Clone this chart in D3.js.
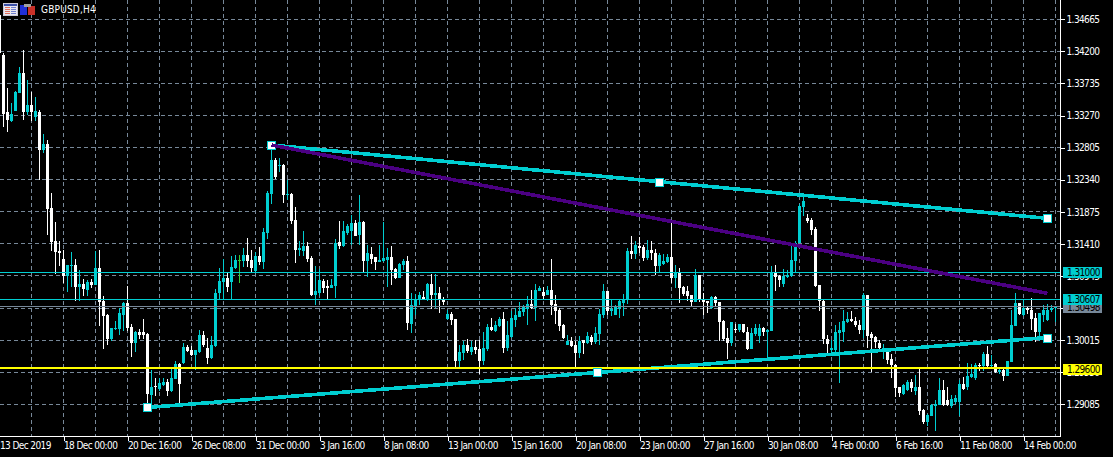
<!DOCTYPE html>
<html><head><meta charset="utf-8">
<style>
html,body{margin:0;padding:0;background:#000;overflow:hidden}
svg{display:block}
text{font-family:'DejaVu Sans',sans-serif;font-stretch:condensed;font-size:10px;letter-spacing:-0.6px;fill:#fff}
text.title{letter-spacing:0.2px}
</style>
<script src="https://cdn.jsdelivr.net/npm/d3@7"></script>
</head><body><svg id="c" width="1113" height="457"></svg>
<script>
const title = "GBPUSD,H4";
const opens = [1.34728,1.34148,1.33322,1.33191,1.33336,1.33597,1.33887,1.33322,1.33423,1.33249,
1.33322,1.32771,1.32858,1.31930,1.31451,1.31306,1.31191,1.30944,1.31089,1.31104,
1.30784,1.30828,1.30741,1.30857,1.30813,1.31060,1.30581,1.30378,1.30030,1.30175,
1.30175,1.30378,1.30552,1.30204,1.29972,1.30132,1.30132,1.30103,1.29219,1.29349,
1.29305,1.29363,1.29407,1.29276,1.29450,1.29668,1.29682,1.29914,1.29871,1.29798,
1.29842,1.30088,1.29900,1.29755,1.29929,1.30697,1.30857,1.30915,1.30857,1.31060,
1.31176,1.31161,1.31248,1.31176,1.31016,1.31234,1.31147,1.31567,1.32133,1.32626,
1.32539,1.32553,1.32118,1.32133,1.31756,1.31321,1.31306,1.31379,1.31205,1.30668,
1.30697,1.30871,1.30799,1.30770,1.30799,1.31437,1.31379,1.31567,1.31596,1.31712,
1.31538,1.31727,1.31161,1.31263,1.31220,1.31147,1.31161,1.31176,1.31220,1.31045,
1.30915,1.31104,1.31161,1.30248,1.30509,1.30596,1.30639,1.30596,1.30828,1.30668,
1.30697,1.30596,1.30320,1.30393,1.30320,1.29711,1.29827,1.29943,1.29842,1.29914,
1.29885,1.29711,1.29885,1.30204,1.30146,1.30219,1.30320,1.29900,1.30059,1.30306,
1.30349,1.30422,1.30465,1.30538,1.30480,1.30726,1.30712,1.30668,1.30741,1.30538,
1.30451,1.30233,1.29943,1.30001,1.29943,1.29827,1.30016,1.29972,1.30059,1.29987,
1.30103,1.30378,1.30726,1.30436,1.30378,1.30465,1.30552,1.30596,1.31306,1.31263,
1.31379,1.31364,1.31205,1.31321,1.31277,1.31089,1.31118,1.31147,1.31220,1.30915,
1.30987,1.30784,1.30726,1.30668,1.30567,1.30958,1.30596,1.30581,1.30480,1.30639,
1.30567,1.30291,1.30045,1.29972,1.30175,1.30161,1.30248,1.30132,1.29885,1.30103,
1.30074,1.30190,1.30132,1.30146,1.30987,1.30944,1.30828,1.30929,1.30944,1.31161,
1.31422,1.31944,1.31785,1.31756,1.31625,1.30813,1.30581,1.30030,1.29871,1.29871,
1.30117,1.30132,1.30277,1.30320,1.30291,1.30233,1.30161,1.30668,1.30103,1.30059,
1.29972,1.29842,1.29856,1.29740,1.29653,1.29334,1.29233,1.29291,1.29407,1.29276,
1.29334,1.29001,1.28827,1.28914,1.29059,1.29073,1.29291,1.29146,1.29059,1.29117,
1.29117,1.29378,1.29334,1.29479,1.29465,1.29653,1.29639,1.29813,1.29639,1.29668,
1.29552,1.29581,1.29494,1.29697,1.30219,1.30552,1.30378,1.30480,1.30451,1.30335,
1.30132,1.30378,1.30306,1.30451,1.30480];
const highs = [1.34728,1.34177,1.33670,1.33452,1.33626,1.33974,1.34221,1.33786,1.33612,1.33539,
1.33351,1.33003,1.32916,1.32147,1.31727,1.31451,1.31321,1.31104,1.31292,1.31191,
1.31031,1.30900,1.30886,1.30900,1.31306,1.31321,1.30654,1.30393,1.30190,1.30291,
1.30480,1.30567,1.30799,1.30248,1.30146,1.30175,1.30320,1.30117,1.29581,1.29465,
1.29465,1.29465,1.29450,1.29610,1.29711,1.29682,1.29972,1.29943,1.29929,1.29871,
1.30161,1.30146,1.30045,1.30074,1.30755,1.31060,1.31191,1.31002,1.31234,1.31248,
1.31248,1.31350,1.31495,1.31321,1.31292,1.31364,1.31640,1.32176,1.32843,1.32655,
1.32655,1.32568,1.32336,1.32147,1.31944,1.31451,1.31596,1.31437,1.31234,1.31089,
1.31045,1.30900,1.30886,1.30900,1.31480,1.31741,1.31741,1.31698,1.31828,1.31756,
1.32118,1.31741,1.31393,1.31364,1.31220,1.31393,1.31727,1.31350,1.31379,1.31060,
1.31133,1.31191,1.31234,1.30697,1.30683,1.30712,1.30726,1.30842,1.30973,1.30973,
1.30784,1.30639,1.30451,1.30422,1.30320,1.29943,1.30001,1.30030,1.30001,1.30016,
1.30016,1.30132,1.30248,1.30335,1.30291,1.30349,1.30422,1.30291,1.30436,1.30480,
1.30567,1.30524,1.30654,1.30741,1.30828,1.30799,1.30784,1.30799,1.31191,1.30668,
1.30480,1.30248,1.30088,1.30059,1.30001,1.30074,1.30016,1.30132,1.30088,1.30204,
1.30465,1.30828,1.30726,1.30596,1.30524,1.30610,1.30683,1.31350,1.31524,1.31451,
1.31509,1.31393,1.31466,1.31451,1.31335,1.31277,1.31263,1.31263,1.31727,1.31104,
1.31060,1.30799,1.30799,1.30668,1.31045,1.30958,1.30697,1.30581,1.30654,1.30654,
1.30567,1.30306,1.30190,1.30277,1.30248,1.30248,1.30248,1.30204,1.30190,1.30248,
1.30248,1.30204,1.30175,1.31089,1.31104,1.30958,1.31045,1.31031,1.31379,1.31451,
1.31988,1.32104,1.31843,1.31785,1.31654,1.30813,1.30596,1.30088,1.30016,1.30233,
1.30277,1.30451,1.30422,1.30436,1.30349,1.30306,1.30697,1.30668,1.30132,1.30074,
1.30016,1.29958,1.29900,1.29813,1.29668,1.29334,1.29378,1.29436,1.29450,1.29508,
1.29595,1.29015,1.28943,1.29088,1.29146,1.29465,1.29436,1.29334,1.29219,1.29219,
1.29436,1.29479,1.29682,1.29668,1.29682,1.29682,1.29842,1.29929,1.29798,1.29682,
1.29610,1.29610,1.29711,1.30451,1.30697,1.30552,1.30596,1.30494,1.30625,1.30407,
1.30407,1.30524,1.30538,1.30524,1.30509];
const lows = [1.34178,1.33104,1.33032,1.33177,1.33336,1.33597,1.33206,1.33278,1.33191,1.33191,
1.32336,1.32727,1.31538,1.31306,1.30973,1.31089,1.30842,1.30712,1.30784,1.30581,
1.30581,1.30654,1.30654,1.30770,1.30813,1.30219,1.29885,1.29943,1.30001,1.30161,
1.30088,1.30146,1.30146,1.29769,1.29842,1.30030,1.30030,1.29102,1.29044,1.29204,
1.29276,1.29349,1.29204,1.29262,1.29450,1.29102,1.29668,1.29842,1.29784,1.29581,
1.29827,1.29914,1.29668,1.29740,1.29914,1.30610,1.30610,1.30712,1.30610,1.31045,
1.30842,1.31074,1.31074,1.31002,1.31002,1.31104,1.31045,1.31480,1.31988,1.32350,
1.32452,1.32002,1.32046,1.31698,1.31133,1.31234,1.31234,1.31147,1.30654,1.30524,
1.30654,1.30697,1.30610,1.30770,1.30625,1.31335,1.31364,1.31538,1.31393,1.31524,
1.31393,1.31002,1.30929,1.31118,1.31031,1.31147,1.31147,1.30784,1.30813,1.30900,
1.30915,1.31031,1.30161,1.30117,1.30378,1.30524,1.30596,1.30581,1.30465,1.30480,
1.30407,1.30524,1.30306,1.30233,1.29624,1.29624,1.29726,1.29827,1.29798,1.29813,
1.29523,1.29653,1.29856,1.30146,1.30132,1.30204,1.29827,1.29856,1.30045,1.30204,
1.30349,1.30364,1.30233,1.30465,1.30291,1.30726,1.30610,1.30668,1.30378,1.30248,
1.30146,1.30030,1.29943,1.29914,1.29624,1.29755,1.29813,1.29958,1.29943,1.29958,
1.29943,1.30335,1.30378,1.30364,1.30378,1.30335,1.30364,1.30538,1.31191,1.31191,
1.31277,1.31161,1.31176,1.31176,1.30958,1.31002,1.31104,1.31133,1.30842,1.30770,
1.30552,1.30654,1.30581,1.30494,1.30567,1.30567,1.30378,1.30407,1.30465,1.30494,
1.30001,1.30001,1.29740,1.29929,1.30117,1.30132,1.30117,1.29871,1.29885,1.30074,
1.29972,1.30074,1.29726,1.30146,1.30726,1.30784,1.30784,1.30915,1.30929,1.31002,
1.31422,1.31814,1.31712,1.31538,1.30784,1.30436,1.29958,1.29827,1.29827,1.29842,
1.29392,1.29987,1.30262,1.30277,1.30204,1.30103,1.30045,1.29900,1.29552,1.29900,
1.29842,1.29740,1.29668,1.29465,1.29190,1.29190,1.29219,1.29276,1.29262,1.29219,
1.28928,1.28798,1.28769,1.28914,1.28697,1.29073,1.29059,1.29059,1.29030,1.29088,
1.28914,1.29291,1.29291,1.29465,1.29436,1.29566,1.29566,1.29624,1.29610,1.29537,
1.29523,1.29421,1.29494,1.29697,1.30219,1.30378,1.30364,1.30393,1.30161,1.29987,
1.30001,1.30277,1.30291,1.30422,1.30277];
const closes = [1.34178,1.33293,1.33206,1.33293,1.33612,1.33887,1.33322,1.33423,1.33322,1.33336,
1.32771,1.32858,1.31916,1.31437,1.31292,1.31277,1.30944,1.31104,1.31104,1.30784,
1.30828,1.30755,1.30857,1.30813,1.31060,1.30567,1.30364,1.30030,1.30190,1.30190,
1.30407,1.30552,1.30190,1.29972,1.30132,1.30088,1.30088,1.29233,1.29334,1.29334,
1.29392,1.29407,1.29276,1.29465,1.29668,1.29378,1.29914,1.29856,1.29798,1.29871,
1.30088,1.29943,1.29755,1.29943,1.30697,1.30871,1.30915,1.30784,1.31074,1.31176,
1.31176,1.31248,1.31161,1.31060,1.31234,1.31147,1.31582,1.32147,1.32626,1.32379,
1.32553,1.32118,1.32133,1.31741,1.31321,1.31350,1.31379,1.31191,1.30668,1.30726,
1.30886,1.30770,1.30770,1.30813,1.31422,1.31379,1.31596,1.31669,1.31712,1.31524,
1.31727,1.31161,1.31277,1.31191,1.31147,1.31176,1.31205,1.31220,1.31031,1.30915,
1.31118,1.31161,1.30262,1.30524,1.30610,1.30668,1.30610,1.30828,1.30668,1.30697,
1.30610,1.30567,1.30393,1.30306,1.29711,1.29842,1.29943,1.29856,1.29914,1.29871,
1.29711,1.29900,1.30204,1.30161,1.30233,1.30320,1.29900,1.30088,1.30335,1.30378,
1.30436,1.30494,1.30538,1.30480,1.30741,1.30770,1.30654,1.30741,1.30524,1.30436,
1.30219,1.30045,1.30001,1.29929,1.29827,1.30001,1.29972,1.30074,1.29987,1.30117,
1.30393,1.30726,1.30436,1.30465,1.30494,1.30581,1.30610,1.31306,1.31263,1.31393,
1.31350,1.31205,1.31321,1.31277,1.31089,1.31248,1.31161,1.31220,1.30915,1.31002,
1.30770,1.30683,1.30654,1.30567,1.30958,1.30610,1.30567,1.30552,1.30639,1.30552,
1.30277,1.30030,1.29972,1.30277,1.30161,1.30248,1.30132,1.29885,1.30117,1.30190,
1.30190,1.30132,1.30161,1.30987,1.30929,1.30886,1.30944,1.30958,1.31176,1.31422,
1.31959,1.32031,1.31741,1.31611,1.30799,1.30581,1.30030,1.29958,1.29900,1.30132,
1.30161,1.30291,1.30320,1.30291,1.30233,1.30161,1.30668,1.30074,1.30045,1.29987,
1.29900,1.29900,1.29726,1.29653,1.29320,1.29248,1.29363,1.29407,1.29320,1.29334,
1.28986,1.28827,1.28928,1.29073,1.29088,1.29291,1.29073,1.29073,1.29161,1.29175,
1.29378,1.29305,1.29494,1.29523,1.29653,1.29639,1.29813,1.29639,1.29653,1.29552,
1.29581,1.29494,1.29711,1.30233,1.30552,1.30393,1.30480,1.30451,1.30320,1.30132,
1.30407,1.30451,1.30451,1.30480,1.30494];
const priceTicks = [1.34665,1.34200,1.33735,1.33270,1.32805,1.32340,1.31875,1.31410,1.30945,1.30480,1.30015,1.29550,1.29085];
const timeLabels = ["13 Dec 2019","18 Dec 00:00","20 Dec 16:00","26 Dec 08:00","31 Dec 00:00","3 Jan 16:00","8 Jan 08:00","13 Jan 00:00","15 Jan 16:00","20 Jan 08:00","23 Jan 00:00","27 Jan 16:00","30 Jan 08:00","4 Feb 00:00","6 Feb 16:00","11 Feb 08:00","14 Feb 00:00"];
const labelEvery = 16;
const gridEvery = 8;
const levelA = 1.31000, levelB = 1.30607, levelBid = 1.30498, levelY = 1.29600;
const upperBars = [68,165,262], upperPrices = [1.32843,1.32311,1.31780];
const lowerBars = [37,149.5,262], lowerPrices = [1.29039,1.29546,1.30053];
const midBars = [68,262], midPrices = [1.32843,1.30693];

const CYAN="#00ced1", GRID="#778899", YEL="#ffff00", PUR="#4b0082", GREEN="#32cd32";
const R=1060.5, B=436.5;
const svg=d3.select("#c");
const x=d3.scaleLinear().domain([0,264]).range([-0.5,1055.5]);
const y=d3.scaleLinear().domain([1.34665,1.29085]).range([19.3,404.3]);
const n=opens.length, idx=d3.range(n);
const crisp=svg.append("g").attr("shape-rendering","crispEdges");

// grid
const gridX=d3.range(gridEvery,n,gridEvery);
crisp.append("g").selectAll("line").data(priceTicks).join("line")
 .attr("x1",0).attr("x2",R).attr("y1",d=>Math.floor(y(d))+.5).attr("y2",d=>Math.floor(y(d))+.5)
 .attr("stroke",GRID).attr("stroke-dasharray","4 3");
crisp.append("g").selectAll("line").data(gridX).join("line")
 .attr("x1",d=>x(d)).attr("x2",d=>x(d)).attr("y1",0).attr("y2",B)
 .attr("stroke",GRID).attr("stroke-dasharray","4 3");

// candles
const col=i=>closes[i]>opens[i]?CYAN:closes[i]<opens[i]?"#fff":GREEN;
crisp.append("g").selectAll("line").data(idx).join("line")
 .attr("x1",i=>x(i)).attr("x2",i=>x(i)).attr("y1",i=>y(highs[i])).attr("y2",i=>y(lows[i]))
 .attr("stroke",col);
crisp.append("g").selectAll("rect").data(idx).join("rect")
 .attr("x",i=>x(i)-1.5).attr("width",3)
 .attr("y",i=>y(Math.max(opens[i],closes[i])))
 .attr("height",i=>Math.max(1,Math.abs(y(opens[i])-y(closes[i]))))
 .attr("fill",col);

// horizontal levels
[[levelBid,GRID,1],[levelA,CYAN,1],[levelB,CYAN,1]].forEach(([p,c,w])=>{
 crisp.append("line").attr("x1",0).attr("x2",R).attr("y1",Math.floor(y(p))+.5).attr("y2",Math.floor(y(p))+.5).attr("stroke",c).attr("stroke-width",w);
});
const trend=d3.line().x(d=>x(d[0])).y(d=>y(d[1]));
const pairs=(b,p)=>b.map((v,i)=>[v,p[i]]);
[[upperBars,upperPrices],[lowerBars,lowerPrices]].forEach(([b,p])=>{
 crisp.append("path").attr("d",trend(pairs(b,p))).attr("fill","none").attr("stroke",CYAN).attr("stroke-width",3.6);
});
crisp.append("line").attr("x1",0).attr("x2",R).attr("y1",Math.floor(y(levelY))).attr("y2",Math.floor(y(levelY))).attr("stroke",YEL).attr("stroke-width",2);
// anchors
[...pairs(upperBars,upperPrices),...pairs(lowerBars,lowerPrices)].forEach(d=>{
 crisp.append("rect").attr("x",x(d[0])-4).attr("y",Math.round(y(d[1]))-4).attr("width",8).attr("height",8)
  .attr("fill","#fff").attr("stroke",CYAN).attr("stroke-width",1);
});
crisp.append("path").attr("d",trend(pairs(midBars,midPrices))).attr("fill","none").attr("stroke",PUR).attr("stroke-width",3.6);

// axes
const yAxis=d3.axisRight(y).tickValues(priceTicks).tickFormat(d3.format(".5f")).tickSize(4).tickPadding(2);
const yg=svg.append("g").attr("transform",`translate(${R},0)`).call(yAxis);
yg.select(".domain").remove();
yg.selectAll("line").attr("stroke","#fff").attr("shape-rendering","crispEdges");
yg.selectAll("text").attr("fill","#fff");
const tickIdx=timeLabels.map((_,i)=>i*labelEvery);
const xAxis=d3.axisBottom(x).tickValues(tickIdx).tickFormat((d,i)=>timeLabels[i]).tickSize(4).tickPadding(1);
const xg=svg.append("g").attr("transform",`translate(0,${B})`).call(xAxis);
xg.select(".domain").remove();
xg.selectAll("line").attr("stroke",d=>d===0?"none":"#fff").attr("shape-rendering","crispEdges");
xg.selectAll("text").attr("text-anchor","start").attr("fill","#fff");
svg.append("g").attr("shape-rendering","crispEdges").call(g=>{
 g.append("line").attr("x1",R).attr("x2",R).attr("y1",0).attr("y2",B).attr("stroke","#fff");
 g.append("line").attr("x1",0).attr("x2",R).attr("y1",B).attr("y2",B).attr("stroke","#fff");
});

// price tags
const fmt=d3.format(".5f");
[[levelBid,GRID,"#000"],[levelA,CYAN,"#000"],[levelB,CYAN,"#000"],[levelY,YEL,"#000"]].forEach(([p,c,t])=>{
 const yy=Math.round(y(p));
 svg.append("rect").attr("x",1063).attr("y",yy-5.5).attr("width",39).attr("height",11).attr("fill",c).attr("shape-rendering","crispEdges");
 svg.append("text").attr("x",1067).attr("y",yy+3.5).style("fill",t).text(fmt(p));
});

// header icons + title
const ic=svg.append("g").attr("shape-rendering","crispEdges");
ic.append("rect").attr("x",3.5).attr("y",3.5).attr("width",14).attr("height",12).attr("fill","#e8e8f0").attr("stroke","#c8c8d8");
ic.append("rect").attr("x",4).attr("y",4).attr("width",13).attr("height",2).attr("fill","#3a50a8");
[7,9,11,13].forEach(v=>{ic.append("rect").attr("x",5).attr("y",v).attr("width",5).attr("height",1).attr("fill","#e07060");ic.append("rect").attr("x",11).attr("y",v).attr("width",5).attr("height",1).attr("fill","#7080d0");});
ic.append("rect").attr("x",20).attr("y",5).attr("width",7).attr("height",10).attr("fill","#2030d8");
ic.append("rect").attr("x",28).attr("y",6).attr("width",7).attr("height",9).attr("fill","#c83028");
ic.append("rect").attr("x",24).attr("y",4).attr("width",7).attr("height",3).attr("fill","#a0a0a0");
svg.append("text").attr("class","title").attr("x",41).attr("y",13).text(title);
</script></body></html>
